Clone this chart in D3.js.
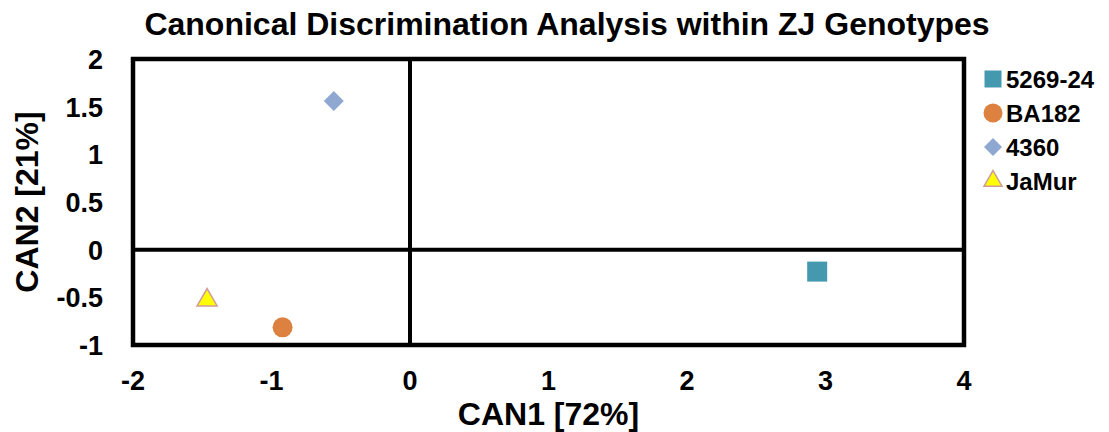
<!DOCTYPE html>
<html>
<head>
<meta charset="utf-8">
<script src="https://cdn.jsdelivr.net/npm/d3@7"></script>
<style>
  body { margin: 0; background: #fff; }
  text { font-family: "Liberation Sans", Arial, sans-serif; font-weight: bold; fill: #000; }
</style>
</head>
<body>
<div id="chart"></div>
<script>
// data
const genotypes = ["5269-24", "BA182", "4360", "JaMur"];
const can1 = [2.94, -0.92, -0.55, -1.465];
const can2 = [-0.23, -0.815, 1.56, -0.53];
const xTicks = [-2, -1, 0, 1, 2, 3, 4];
const yTicks = [-1, -0.5, 0, 0.5, 1, 1.5, 2];

// symbol sizes: [plot, legend], rotate for the diamond
const markers = [
    {shape: d3.symbolSquare, rot: 0, size: [400, 289], fill: "#4599AF", stroke: "none"},
    {shape: d3.symbolCircle, rot: 0, size: [314, 283], fill: "#DD8140", stroke: "none"},
    {shape: d3.symbolSquare, rot: 45, size: [200, 162], fill: "#8EA8D1", stroke: "none"},
    {shape: d3.symbolTriangle, rot: 0, size: [175, 140], fill: "#FFFF00", stroke: "#D09A9A"}
];

const W = 1109, H = 432;
const margin = {top: 59, right: 145, bottom: 87, left: 133};
const width = W - margin.left - margin.right,
    height = H - margin.top - margin.bottom;

const svg = d3.select("#chart").append("svg")
    .attr("width", W)
    .attr("height", H);

const g = svg.append("g")
    .attr("transform", "translate(" + margin.left + "," + margin.top + ")");

const x = d3.scaleLinear().domain([-2, 4]).range([0, width]);
const y = d3.scaleLinear().domain([-1, 2]).range([height, 0]);

// zero lines
g.append("line")
    .attr("x1", x(0)).attr("x2", x(0))
    .attr("y1", 0).attr("y2", height)
    .attr("stroke", "#000").attr("stroke-width", 4);
g.append("line")
    .attr("x1", 0).attr("x2", width)
    .attr("y1", y(0)).attr("y2", y(0))
    .attr("stroke", "#000").attr("stroke-width", 4);

// frame
g.append("rect")
    .attr("width", width).attr("height", height)
    .attr("fill", "none")
    .attr("stroke", "#000").attr("stroke-width", 4.5);

// tick labels
g.selectAll(".xt")
    .data(xTicks)
    .join("text")
    .attr("x", d => x(d))
    .attr("y", height + 45)
    .attr("text-anchor", "middle")
    .style("font-size", "27px")
    .text(d => d);

g.selectAll(".yt")
    .data(yTicks)
    .join("text")
    .attr("x", -30)
    .attr("y", d => y(d) + 10)
    .attr("text-anchor", "end")
    .style("font-size", "27px")
    .text(d => d);

// points
const pts = genotypes.map((name, i) => ({name: name, x: can1[i], y: can2[i], m: markers[i]}));
g.selectAll(".pt")
    .data(pts)
    .join("path")
    .attr("transform", d => "translate(" + x(d.x) + "," + y(d.y) + ") rotate(" + d.m.rot + ")")
    .attr("d", d => d3.symbol().type(d.m.shape).size(d.m.size[0])())
    .attr("fill", d => d.m.fill)
    .attr("stroke", d => d.m.stroke)
    .attr("stroke-width", 1.5);

// title and axis titles
svg.append("text")
    .attr("x", 567)
    .attr("y", 35)
    .attr("text-anchor", "middle")
    .style("font-size", "32px")
    .text("Canonical Discrimination Analysis within ZJ Genotypes");

svg.append("text")
    .attr("x", margin.left + width / 2)
    .attr("y", 425)
    .attr("text-anchor", "middle")
    .style("font-size", "32px")
    .text("CAN1 [72%]");

svg.append("text")
    .attr("transform", "translate(38," + (margin.top + height / 2) + ") rotate(-90)")
    .attr("text-anchor", "middle")
    .style("font-size", "32px")
    .text("CAN2 [21%]");

// legend
const legend = svg.selectAll(".lg")
    .data(pts)
    .join("g")
    .attr("transform", (d, i) => "translate(993," + (79 + i * 34) + ")");
legend.append("path")
    .attr("transform", d => "rotate(" + d.m.rot + ")")
    .attr("d", d => d3.symbol().type(d.m.shape).size(d.m.size[1])())
    .attr("fill", d => d.m.fill)
    .attr("stroke", d => d.m.stroke)
    .attr("stroke-width", 1.5);
legend.append("text")
    .attr("x", 13)
    .attr("y", 9)
    .style("font-size", "24px")
    .text(d => d.name);
</script>
</body>
</html>
